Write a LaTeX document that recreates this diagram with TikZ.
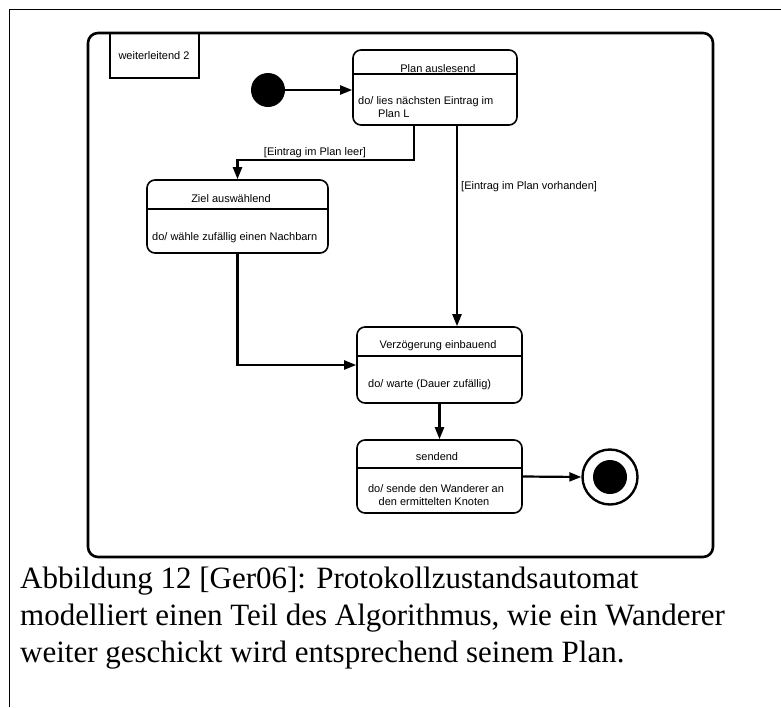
\documentclass[tikz,border=0pt]{standalone}
\usepackage{fontspec}
\setmainfont{Liberation Serif}
\newfontfamily\diagfont{Liberation Sans}
\usetikzlibrary{arrows.meta,calc}

\begin{document}
\begin{tikzpicture}[x=1pt,y=-1pt,
  statebox/.style={draw,line width=1.6pt,rounded corners=8pt,inner sep=0pt},
  divider/.style={line width=2.4pt},
  arr/.style={line width=2.2pt,-{Triangle[length=12pt,width=9pt]}},
  txt/.style={font=\diagfont\fontsize{11}{13}\selectfont,inner sep=0pt,anchor=base},
  txtl/.style={txt,anchor=base west},
  caption/.style={font=\fontsize{31}{37}\selectfont,inner sep=0pt,anchor=base west}]
\useasboundingbox (0,0) rectangle (781,707);

% page edges
\draw[line width=0.9pt] (781,9) -- (9,9) -- (9,707);

% enclosing state machine frame and its name tab
\draw[line width=2.6pt,rounded corners=10pt] (88,33) rectangle (713,557);
\draw[line width=1.3pt] (110,33) -- (110,78) -- (199,78) -- (199,33);
\node[txt] (frametitle) at (154,59) {weiterleitend 2};

% pseudo states
\node[circle,fill=black,minimum size=34pt,inner sep=0pt] (init) at (268,90) {};
\node[circle,draw,line width=2.4pt,minimum size=55pt,inner sep=0pt] (final) at (610,477) {};
\node[circle,fill=black,minimum size=34pt,inner sep=0pt] (finaldot) at (final) {};

% states
\node[statebox,minimum width=164pt,minimum height=75pt] (plan) at (435,87.5) {};
\draw[divider] (plan.west |- 0,74) -- (plan.east |- 0,74);
\node[txt] (plant) at (438,72) {Plan auslesend};
\node[txtl] (planb1) at (358,104) {do/ lies nächsten Eintrag im};
\node[txtl] (planb2) at (378,117) {Plan L};

\node[statebox,minimum width=181pt,minimum height=73pt] (ziel) at (237.5,216.5) {};
\draw[divider] (ziel.west |- 0,209) -- (ziel.east |- 0,209);
\node[txt] (zielt) at (231,202) {Ziel auswählend};
\node[txtl] (zielb) at (152,240) {do/ wähle zufällig einen Nachbarn};

\node[statebox,minimum width=165pt,minimum height=76pt] (verz) at (439.5,365) {};
\draw[divider] (verz.west |- 0,356) -- (verz.east |- 0,356);
\node[txt] (verzt) at (438,348) {Verzögerung einbauend};
\node[txtl] (verzb) at (368,387) {do/ warte (Dauer zufällig)};

\node[statebox,minimum width=165pt,minimum height=73pt] (send) at (439.5,476.5) {};
\draw[divider] (send.west |- 0,468) -- (send.east |- 0,468);
\node[txt] (sendt) at (437,460) {sendend};
\node[txt] (sendb1) at (436,492) {do/ sende den Wanderer an};
\node[txt] (sendb2) at (434,505) {den ermittelten Knoten};

% transitions
\draw[arr] (init) -- (plan.west |- init);
\draw[arr] ([xshift=-21pt]plan.south) |- ([yshift=19pt]ziel.north) -- (ziel.north);
\node[txt] (leer) at (315,155) {[Eintrag im Plan leer]};
\draw[arr] ([xshift=22pt]plan.south) -- ([xshift=22pt]plan.south |- verz.north);
\node[txtl] (vorh) at (461,189) {[Eintrag im Plan vorhanden]};
\draw[arr] (ziel.south) |- (verz.west);
\draw[arr] (verz.south) -- (send.north);
\draw[arr] (send.east) -- (final.west);

% figure caption
\node[caption] (cap1) at (20,588) {Abbildung 12 [Ger06]: Protokollzustandsautomat};
\node[caption] (cap2) at (20,625) {modelliert einen Teil des Algorithmus, wie ein Wanderer};
\node[caption] (cap3) at (20,662) {weiter geschickt wird entsprechend seinem Plan.};
\end{tikzpicture}
\end{document}
